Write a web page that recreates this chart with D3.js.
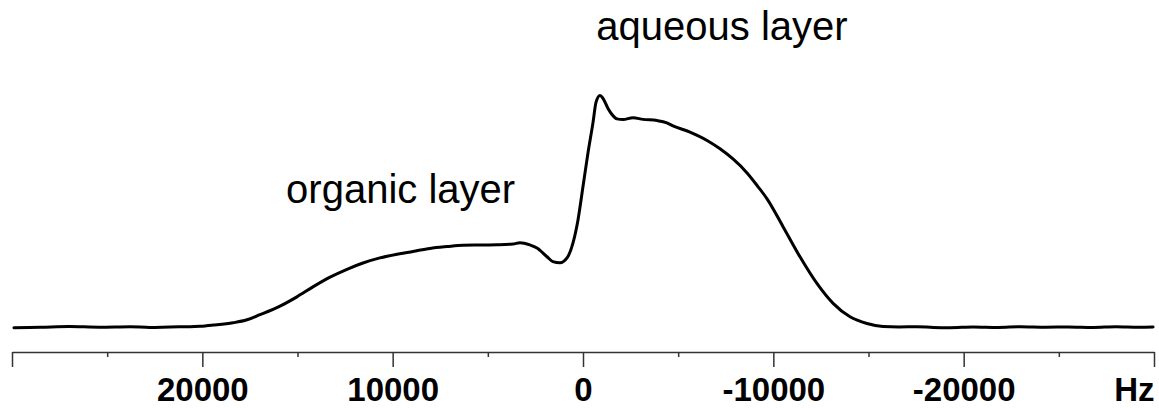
<!DOCTYPE html>
<html>
<head>
<meta charset="utf-8">
<script src="https://cdn.jsdelivr.net/npm/d3@7"></script>
<style>
  html, body { margin: 0; padding: 0; background: #fff; }
  svg { display: block; }
</style>
</head>
<body>
<svg id="chart" width="1159" height="408"></svg>
<script>
// Frequency offsets (Hz) and normalised intensity
const freqHz = [
  29900, 28500, 27000, 25400, 23800, 22750, 21700, 20650, 20120, 19440,
  18390, 17650, 16970, 15920, 15030, 14190, 13290, 12400, 11560, 10670,
  9770, 8930, 8040, 7150, 6300, 5410, 4520, 3680, 3310, 2785,
  2420, 1890, 1580, 1210, 840, 525, 263, 0, -263, -525,
  -683, -893, -1050, -1314, -1524, -1786, -2100, -2627, -3150, -3890,
  -4410, -4730, -5620, -6520, -7200, -7880, -8620, -9200, -9670, -10510,
  -11400, -12290, -13140, -14030, -14920, -15760, -16600, -17550, -18400, -19280,
  -20500, -21800, -23000, -24300, -25500, -26800, -28000, -29200, -29950
];
const intensity = [
  -0.2, 0.0, 0.3, 0.0, 0.2, -0.1, 0.1, 0.2, 0.4, 0.9,
  1.9, 3.2, 5.4, 9.1, 13.1, 17.4, 21.6, 25.0, 27.7, 29.9,
  31.5, 32.7, 34.0, 34.8, 35.4, 35.5, 35.6, 35.9, 36.5, 35.5,
  34.2, 30.4, 28.3, 27.8, 29.9, 36.4, 46.3, 60.7, 75.3, 88.3,
  97.0, 100.0, 98.8, 94.4, 91.8, 89.9, 89.6, 90.4, 89.7, 89.2,
  88.2, 86.9, 84.2, 80.6, 77.0, 72.6, 66.6, 60.6, 55.4, 43.4,
  30.4, 18.9, 10.3, 4.5, 1.6, 0.3, 0.1, 0.2, -0.1, -0.2,
  0.1, -0.1, 0.2, 0.0, 0.1, -0.1, 0.2, 0.0, 0.1
];
const majorTicks = [30000, 20000, 10000, 0, -10000, -20000, -30000];
const tickLabels = ["", "20000", "10000", "0", "-10000", "-20000", "Hz"];
const minorTicks = [25000, 15000, 5000, -5000, -15000, -25000];
const annotations = ["organic layer", "aqueous layer"];
const annotationHz = [15600, -700];
const annotationLevel = [53.6, 124];

const svg = d3.select("#chart");
const x = d3.scaleLinear().domain([30000, -30000]).range([12, 1154]);
const y = d3.scaleLinear().domain([0, 100]).range([327.2, 95.5]);
const axisY = 352;

const pts = freqHz.map((f, i) => [f, intensity[i]]);

svg.append("path")
  .datum(pts)
  .attr("fill", "none")
  .attr("stroke", "#000")
  .attr("stroke-width", 3)
  .attr("stroke-linejoin", "round")
  .attr("stroke-linecap", "round")
  .attr("d", d3.line().x(d => x(d[0])).y(d => y(d[1])).curve(d3.curveMonotoneX));

// minor ticks
svg.append("g")
  .attr("transform", `translate(0,${axisY})`)
  .call(d3.axisBottom(x).tickValues(minorTicks).tickSize(5).tickFormat(""))
  .call(g => g.select(".domain").remove())
  .call(g => g.selectAll("line").attr("stroke", "#333").attr("stroke-width", 1.5));

// major axis
const ax = svg.append("g")
  .attr("transform", `translate(0,${axisY})`)
  .call(d3.axisBottom(x).tickValues(majorTicks).tickSize(15).tickSizeOuter(0)
        .tickFormat((d, i) => tickLabels[i]));
ax.select(".domain").attr("stroke", "#333").attr("stroke-width", 1.5);
ax.selectAll("line").attr("stroke", "#333").attr("stroke-width", 1.5);
ax.selectAll("text")
  .attr("y", 49).attr("dy", 0)
  .attr("fill", "#000")
  .style("font-family", "'Liberation Sans', Arial, Helvetica, sans-serif")
  .style("font-weight", "bold")
  .style("font-size", "33px")
  .attr("text-anchor", (d, i) => tickLabels[i] === "Hz" ? "end" : "middle");

// annotations
svg.selectAll("text.ann")
  .data(annotations)
  .enter().append("text")
  .attr("class", "ann")
  .attr("x", (d, i) => x(annotationHz[i]))
  .attr("y", (d, i) => y(annotationLevel[i]))
  .attr("text-anchor", "start")
  .style("font-family", "'Liberation Sans', Arial, Helvetica, sans-serif")
  .style("font-size", "40px")
  .attr("fill", "#000")
  .text(d => d);
</script>
</body>
</html>
